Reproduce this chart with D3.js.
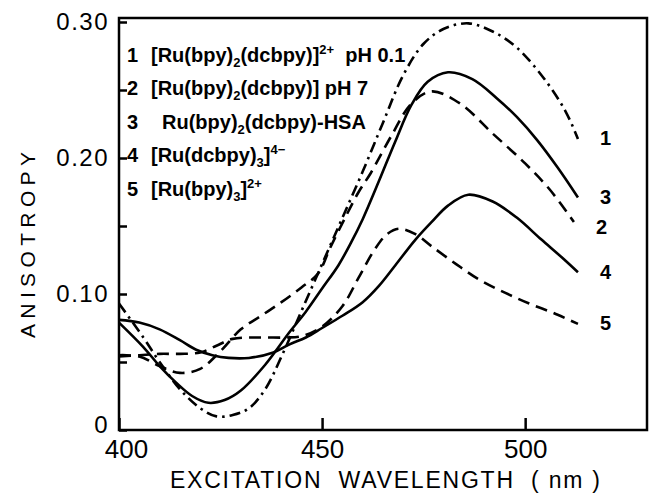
<!DOCTYPE html>
<html>
<head>
<meta charset="utf-8">
<script src="https://cdn.jsdelivr.net/npm/d3@7"></script>
<style>
  body { margin: 0; background: #fff; }
  svg { display: block; }
</style>
</head>
<body>
<svg id="chart"></svg>
<script>
// values: [wavelength (nm), anisotropy]
const curve1 = [[400,0.093],[406,0.068],[410,0.050],[415,0.030],[420,0.016],[424,0.010],[428,0.011],[432,0.016],[436,0.030],[440,0.054],[445,0.088],[450,0.122],[455,0.156],[460,0.190],[465,0.226],[470,0.261],[475,0.284],[480,0.295],[486,0.299],[492,0.293],[498,0.281],[505,0.257],[510,0.234],[513,0.214]];
const curve2 = [[400,0.055],[405,0.054],[410,0.047],[415,0.042],[420,0.045],[425,0.058],[430,0.074],[435,0.084],[440,0.094],[445,0.105],[449,0.115],[452,0.134],[456,0.158],[459,0.175],[462,0.189],[467,0.216],[472,0.240],[477,0.249],[484,0.240],[492,0.218],[500,0.196],[506,0.177],[512,0.153]];
const curve3 = [[400,0.079],[406,0.061],[410,0.047],[414,0.035],[418,0.025],[422,0.020],[426,0.022],[430,0.029],[436,0.048],[442,0.072],[446,0.087],[450,0.104],[454,0.121],[457,0.137],[460,0.155],[464,0.183],[468,0.212],[472,0.239],[476,0.256],[481,0.263],[487,0.258],[493,0.244],[498,0.230],[503,0.213],[508,0.193],[513,0.171]];
const curve4 = [[400,0.081],[405,0.079],[410,0.074],[415,0.066],[419,0.059],[423,0.055],[427,0.053],[432,0.053],[438,0.057],[442,0.063],[446,0.068],[450,0.075],[455,0.084],[460,0.094],[464,0.106],[468,0.121],[473,0.140],[477,0.153],[481,0.165],[486,0.173],[492,0.168],[498,0.156],[504,0.140],[509,0.127],[513,0.116]];
const curve5 = [[400,0.054],[405,0.055],[410,0.056],[415,0.056],[420,0.057],[424,0.062],[428,0.067],[435,0.068],[441,0.068],[445,0.069],[450,0.076],[455,0.091],[459,0.112],[463,0.133],[466,0.144],[469,0.148],[473,0.144],[477,0.135],[483,0.122],[489,0.110],[495,0.101],[501,0.093],[507,0.086],[513,0.078]];

const seriesIds = ["1", "2", "3", "4", "5"];
const yTicks = [0, 0.1, 0.2, 0.3];
const yTickLabels = ["0", "0.10", "0.20", "0.30"];
const yMinorTicks = [0.05, 0.15, 0.25];
const xTicks = [400, 450, 500];
const xTitle = "EXCITATION  WAVELENGTH  ( nm )";
const yTitle = "ANISOTROPY";

// legend rows: [text, "sub"/"sup"/""]
const legendRows = [
  [["[Ru(bpy)", ""], ["2", "sub"], ["(dcbpy)]", ""], ["2+", "sup"], ["  pH 0.1", ""]],
  [["[Ru(bpy)", ""], ["2", "sub"], ["(dcbpy)] pH 7", ""]],
  [["Ru(bpy)", ""], ["2", "sub"], ["(dcbpy)-HSA", ""]],
  [["[Ru(dcbpy)", ""], ["3", "sub"], ["]", ""], ["4\u2212", "sup"]],
  [["[Ru(bpy)", ""], ["3", "sub"], ["]", ""], ["2+", "sup"]]
];

const width = 650, height = 493;
const svg = d3.select("#chart").attr("width", width).attr("height", height);

const x = d3.scaleLinear().domain([400, 530]).range([119, 647]);
const y = d3.scaleLinear().domain([0, 0.3]).range([430, 22]);

const font = "'Liberation Sans', Arial, sans-serif";

// frame
svg.append("rect")
  .attr("x", x(400)).attr("y", y(0.3) - 4)
  .attr("width", x(530) - x(400)).attr("height", y(0) - y(0.3) + 4)
  .attr("fill", "none").attr("stroke", "#000").attr("stroke-width", 2.5);

// y axis, major ticks with labels
const yAxis = svg.append("g")
  .attr("transform", "translate(" + x(400) + ",0)")
  .call(d3.axisLeft(y).tickValues(yTicks).tickSizeInner(-8).tickSizeOuter(0)
    .tickPadding(10).tickFormat((d, i) => yTickLabels[i]));
yAxis.select(".domain").remove();
yAxis.selectAll("line").attr("stroke-width", 2.5);
yAxis.selectAll("text").attr("font-family", font).attr("font-size", 24).attr("fill", "#000")
  .attr("letter-spacing", 1.5)
  .attr("dy", (d) => d === 0 ? "0.1em" : "0.32em");

// y minor ticks
const yMinor = svg.append("g")
  .attr("transform", "translate(" + x(400) + ",0)")
  .call(d3.axisLeft(y).tickValues(yMinorTicks).tickSizeInner(-8).tickSizeOuter(0).tickFormat(""));
yMinor.select(".domain").remove();
yMinor.selectAll("line").attr("stroke-width", 2.5);

// x axis
const xAxis = svg.append("g")
  .attr("transform", "translate(0," + y(0) + ")")
  .call(d3.axisBottom(x).tickValues(xTicks).tickSizeInner(-12).tickSizeOuter(0).tickPadding(10));
xAxis.select(".domain").remove();
xAxis.selectAll("line").attr("stroke-width", 2.5);
xAxis.selectAll("text").attr("font-family", font).attr("font-size", 26).attr("fill", "#000")
  .attr("dx", (d) => d === 400 ? 7 : 0);

// axis titles
svg.append("text")
  .attr("x", 170).attr("y", 488)
  .attr("textLength", 430).attr("lengthAdjust", "spacing")
  .attr("font-family", font).attr("font-size", 23)
  .style("white-space", "pre")
  .text(xTitle);

svg.append("text")
  .attr("transform", "translate(35,338) rotate(-90)")
  .attr("textLength", 186).attr("lengthAdjust", "spacing")
  .attr("font-family", font).attr("font-size", 21)
  .text(yTitle);

// curves
const line = d3.line()
  .x((d) => x(d[0]))
  .y((d) => y(d[1]))
  .curve(d3.curveCatmullRom.alpha(0.5));

const curves = [curve1, curve2, curve3, curve4, curve5];
const dashes = ["11,5,2.5,5", "12,7", null, null, "12,7"];

svg.append("g")
  .selectAll("path")
  .data(curves)
  .join("path")
  .attr("d", line)
  .attr("fill", "none")
  .attr("stroke", "#000")
  .attr("stroke-width", 2.6)
  .attr("stroke-dasharray", (d, i) => dashes[i]);

// end labels
svg.append("g")
  .selectAll("text")
  .data(curves)
  .join("text")
  .attr("x", (d) => x(d[d.length - 1][0]) + 22)
  .attr("y", (d, i) => y(d[d.length - 1][1]) + (i === 1 ? 7 : 1))
  .attr("dominant-baseline", "middle")
  .attr("font-family", font).attr("font-weight", "bold").attr("font-size", 20)
  .text((d, i) => seriesIds[i]);

// legend
const legend = svg.append("g")
  .attr("font-family", font).attr("font-weight", "bold").attr("font-size", 20);

legendRows.forEach((row, i) => {
  const by = 62 + i * 33.4;
  legend.append("text").attr("x", 127).attr("y", by).text(seriesIds[i]);
  const t = legend.append("text")
    .attr("x", row[0][0].startsWith("[") ? 151 : 162)
    .attr("y", by)
    .style("white-space", "pre");
  let shift = 0;
  row.forEach(([s, kind]) => {
    const target = kind === "sub" ? 5 : kind === "sup" ? -8 : 0;
    t.append("tspan")
      .attr("dy", target - shift)
      .attr("font-size", kind ? 13 : 20)
      .text(s);
    shift = target;
  });
});
</script>
</body>
</html>
